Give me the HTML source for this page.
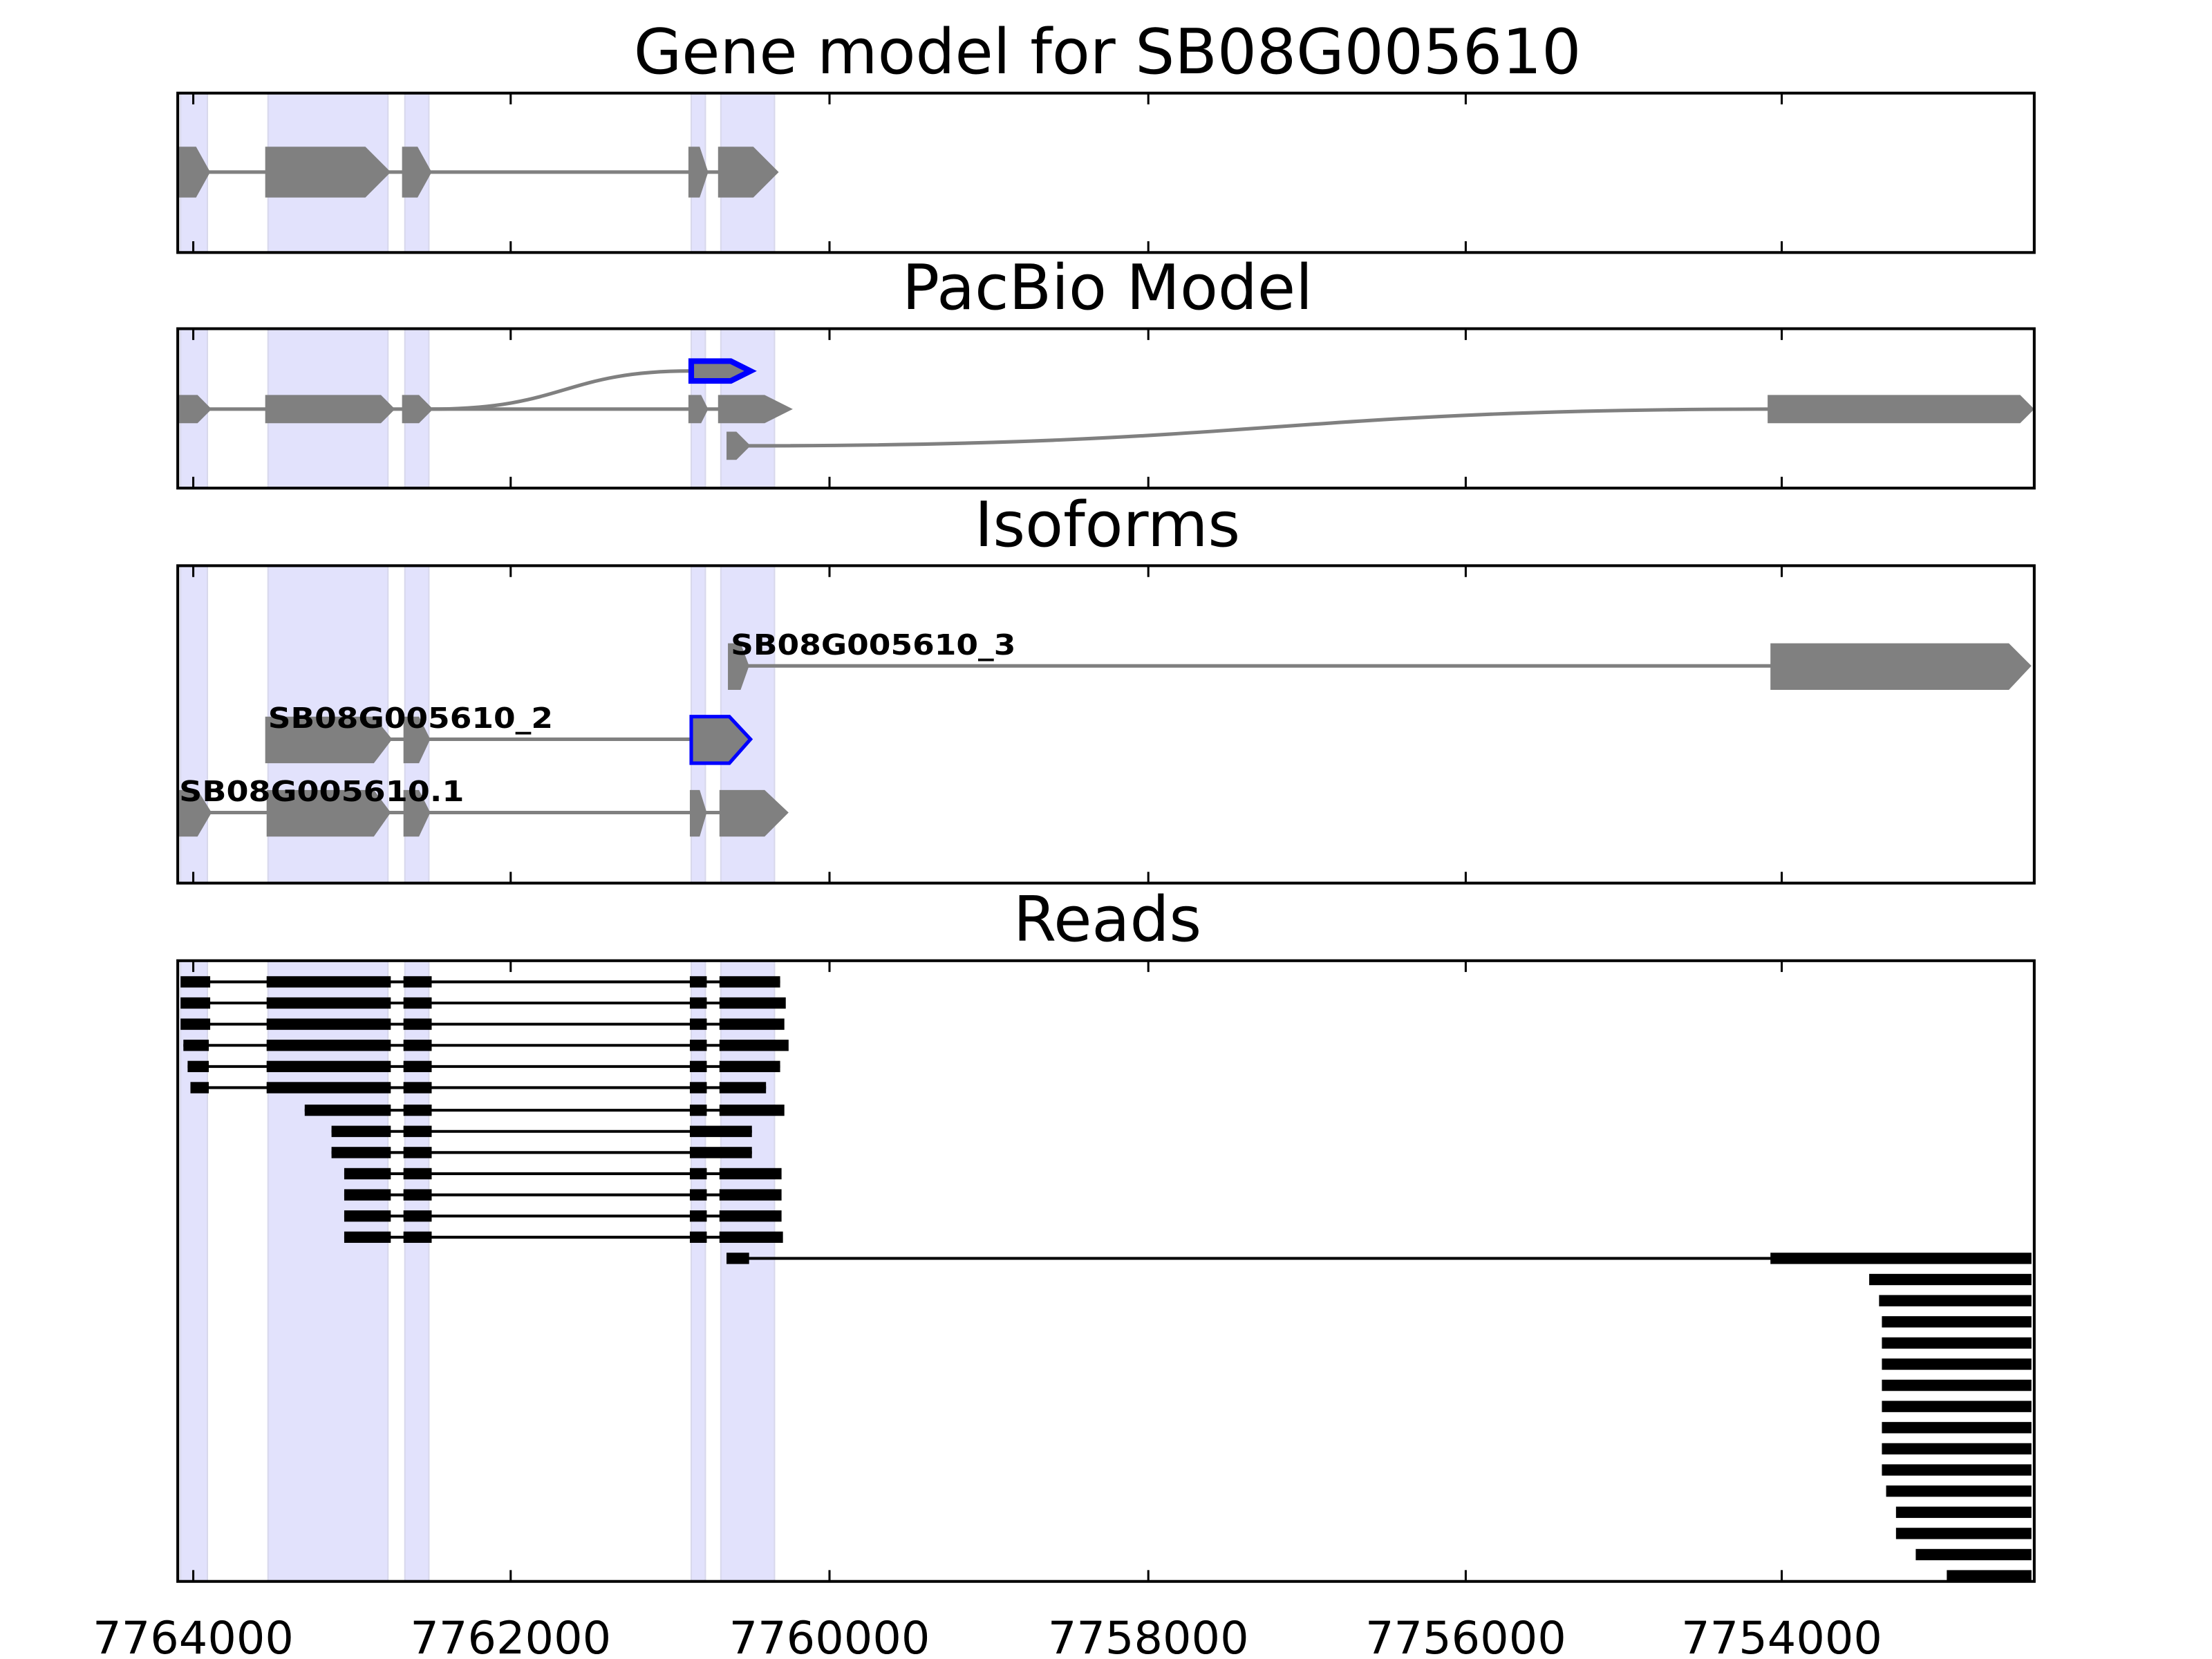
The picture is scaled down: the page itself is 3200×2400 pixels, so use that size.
<!DOCTYPE html>
<html><head><meta charset="utf-8"><style>html,body{margin:0;padding:0;background:#fff;width:3200px;height:2400px;overflow:hidden}svg{display:block}</style></head>
<body>
<svg width="3200" height="2400" viewBox="0 0 1568 1176" xmlns="http://www.w3.org/2000/svg" font-family="DejaVu Sans, Liberation Sans, sans-serif">
<defs>
<g id="shade">
<rect x="128" width="19" height="1000" fill="#e2e2fc" stroke="#d8d8ec" stroke-width="1"/>
<rect x="190" width="85" height="1000" fill="#e2e2fc" stroke="#d8d8ec" stroke-width="1"/>
<rect x="287" width="17" height="1000" fill="#e2e2fc" stroke="#d8d8ec" stroke-width="1"/>
<rect x="490" width="10" height="1000" fill="#e2e2fc" stroke="#d8d8ec" stroke-width="1"/>
<rect x="511" width="38" height="1000" fill="#e2e2fc" stroke="#d8d8ec" stroke-width="1"/>
</g>
<clipPath id="c1"><rect x="126" y="66" width="1316" height="113"/></clipPath>
<clipPath id="c2"><rect x="126" y="233" width="1316" height="113"/></clipPath>
<clipPath id="c3"><rect x="126" y="401" width="1316" height="225"/></clipPath>
<clipPath id="c4"><rect x="126" y="681" width="1316" height="440"/></clipPath>
</defs>

<g font-size="44" text-anchor="middle" fill="#000">
<text x="785" y="52">Gene model for SB08G005610</text>
<text x="785" y="219">PacBio Model</text>
<text x="785" y="387">Isoforms</text>
<text x="785" y="667">Reads</text>
</g>

<g clip-path="url(#c1)"><use href="#shade" y="66"/></g>
<g clip-path="url(#c2)"><use href="#shade" y="233"/></g>
<g clip-path="url(#c3)"><use href="#shade" y="401"/></g>
<g clip-path="url(#c4)"><use href="#shade" y="681"/></g>

<g fill="#808080">
<line x1="140" y1="122" x2="540" y2="122" stroke="#808080" stroke-width="2.5"/>
<polygon points="127,104 139,104 149,122 139,140 127,140"/>
<polygon points="188,104 259,104 277,122 259,140 188,140"/>
<polygon points="285,104 296,104 306,122 296,140 285,140"/>
<polygon points="488,104 496,104 502,122 496,140 488,140"/>
<polygon points="509,104 534,104 552,122 534,140 509,140"/>
</g>

<g fill="#808080" stroke="none">
<line x1="140" y1="290" x2="540" y2="290" stroke="#808080" stroke-width="2.5"/>
<path d="M306,290 C400,290 400,263 489,263" fill="none" stroke="#808080" stroke-width="2.5"/>
<path d="M530,316 C900,316 900,290 1260,290" fill="none" stroke="#808080" stroke-width="2.5"/>
<polygon points="127,280 140,280 150,290 140,300 127,300"/>
<polygon points="188,280 270,280 280,290 270,300 188,300"/>
<polygon points="285,280 297,280 307,290 297,300 285,300"/>
<polygon points="488,280 497,280 502,290 497,300 488,300"/>
<polygon points="509,280 542,280 562,290 542,300 509,300"/>
<polygon points="515,306 522,306 532,316 522,326 515,326"/>
<polygon points="1253,280 1432,280 1442,290 1432,300 1253,300"/>
<polygon points="490,256 518,256 532,263 518,270 490,270" stroke="#0000ff" stroke-width="4"/>
</g>

<g fill="#808080">
<line x1="525" y1="472" x2="1260" y2="472" stroke="#808080" stroke-width="2.5"/>
<polygon points="516,456 525,456 531,472 525,489 516,489"/>
<polygon points="1255,456 1424,456 1440,472 1424,489 1255,489"/>
<line x1="270" y1="524" x2="495" y2="524" stroke="#808080" stroke-width="2.5"/>
<polygon points="188,508 265,508 278,524 265,541 188,541"/>
<polygon points="286,508 297,508 305,524 297,541 286,541"/>
<polygon points="490,508 517,508 532,524 517,541 490,541" stroke="#0000ff" stroke-width="2.5"/>
<line x1="140" y1="576" x2="540" y2="576" stroke="#808080" stroke-width="2.5"/>
<polygon points="127,560 140,560 150,576 140,593 127,593"/>
<polygon points="189,560 265,560 277,576 265,593 189,593"/>
<polygon points="286,560 297,560 305,576 297,593 286,593"/>
<polygon points="489,560 496,560 501,576 496,593 489,593"/>
<polygon points="510,560 542,560 559,576 542,593 510,593"/>
</g>
<g font-size="20" font-weight="bold" fill="#000">
<text x="518" y="464" textLength="202" lengthAdjust="spacingAndGlyphs">SB08G005610_3</text>
<text x="190" y="516" textLength="202" lengthAdjust="spacingAndGlyphs">SB08G005610_2</text>
<text x="127" y="568" textLength="202" lengthAdjust="spacingAndGlyphs">SB08G005610.1</text>
</g>

<g fill="#000" stroke="#000">
<g stroke-width="2">
<line x1="130" y1="696" x2="553" y2="696"/>
<line x1="130" y1="711" x2="553" y2="711"/>
<line x1="130" y1="726" x2="553" y2="726"/>
<line x1="130" y1="741" x2="553" y2="741"/>
<line x1="133" y1="756" x2="553" y2="756"/>
<line x1="135" y1="771" x2="543" y2="771"/>
<line x1="216" y1="787" x2="553" y2="787"/>
<line x1="235" y1="802" x2="533" y2="802"/>
<line x1="235" y1="817" x2="533" y2="817"/>
<line x1="244" y1="832" x2="553" y2="832"/>
<line x1="244" y1="847" x2="553" y2="847"/>
<line x1="244" y1="862" x2="553" y2="862"/>
<line x1="244" y1="877" x2="553" y2="877"/>
<line x1="515" y1="892" x2="1260" y2="892"/>
</g>
<g stroke="none">
<rect x="128" y="692" width="21" height="8"/><rect x="189" y="692" width="88" height="8"/><rect x="286" y="692" width="20" height="8"/><rect x="489" y="692" width="12" height="8"/><rect x="510" y="692" width="43" height="8"/>
<rect x="128" y="707" width="21" height="8"/><rect x="189" y="707" width="88" height="8"/><rect x="286" y="707" width="20" height="8"/><rect x="489" y="707" width="12" height="8"/><rect x="510" y="707" width="47" height="8"/>
<rect x="128" y="722" width="21" height="8"/><rect x="189" y="722" width="88" height="8"/><rect x="286" y="722" width="20" height="8"/><rect x="489" y="722" width="12" height="8"/><rect x="510" y="722" width="46" height="8"/>
<rect x="130" y="737" width="18" height="8"/><rect x="189" y="737" width="88" height="8"/><rect x="286" y="737" width="20" height="8"/><rect x="489" y="737" width="12" height="8"/><rect x="510" y="737" width="49" height="8"/>
<rect x="133" y="752" width="15" height="8"/><rect x="189" y="752" width="88" height="8"/><rect x="286" y="752" width="20" height="8"/><rect x="489" y="752" width="12" height="8"/><rect x="510" y="752" width="43" height="8"/>
<rect x="135" y="767" width="13" height="8"/><rect x="189" y="767" width="88" height="8"/><rect x="286" y="767" width="20" height="8"/><rect x="489" y="767" width="12" height="8"/><rect x="510" y="767" width="33" height="8"/>
<rect x="216" y="783" width="61" height="8"/><rect x="286" y="783" width="20" height="8"/><rect x="489" y="783" width="12" height="8"/><rect x="510" y="783" width="46" height="8"/>
<rect x="235" y="798" width="42" height="8"/><rect x="286" y="798" width="20" height="8"/><rect x="489" y="798" width="44" height="8"/>
<rect x="235" y="813" width="42" height="8"/><rect x="286" y="813" width="20" height="8"/><rect x="489" y="813" width="44" height="8"/>
<rect x="244" y="828" width="33" height="8"/><rect x="286" y="828" width="20" height="8"/><rect x="489" y="828" width="12" height="8"/><rect x="510" y="828" width="44" height="8"/>
<rect x="244" y="843" width="33" height="8"/><rect x="286" y="843" width="20" height="8"/><rect x="489" y="843" width="12" height="8"/><rect x="510" y="843" width="44" height="8"/>
<rect x="244" y="858" width="33" height="8"/><rect x="286" y="858" width="20" height="8"/><rect x="489" y="858" width="12" height="8"/><rect x="510" y="858" width="44" height="8"/>
<rect x="244" y="873" width="33" height="8"/><rect x="286" y="873" width="20" height="8"/><rect x="489" y="873" width="12" height="8"/><rect x="510" y="873" width="45" height="8"/>
<rect x="515" y="888" width="16" height="8"/><rect x="1255" y="888" width="185" height="8"/>
<rect x="1325" y="903" width="115" height="8"/>
<rect x="1332" y="918" width="108" height="8"/>
<rect x="1334" y="933" width="106" height="8"/>
<rect x="1334" y="948" width="106" height="8"/>
<rect x="1334" y="963" width="106" height="8"/>
<rect x="1334" y="978" width="106" height="8"/>
<rect x="1334" y="993" width="106" height="8"/>
<rect x="1334" y="1008" width="106" height="8"/>
<rect x="1334" y="1023" width="106" height="8"/>
<rect x="1334" y="1038" width="106" height="8"/>
<rect x="1337" y="1053" width="103" height="8"/>
<rect x="1344" y="1068" width="96" height="8"/>
<rect x="1344" y="1083" width="96" height="8"/>
<rect x="1358" y="1098" width="82" height="8"/>
<rect x="1380" y="1113" width="60" height="8"/>
</g>
</g>

<g fill="none" stroke="#000" stroke-width="2">
<rect x="126" y="66" width="1316" height="113"/>
<rect x="126" y="233" width="1316" height="113"/>
<rect x="126" y="401" width="1316" height="225"/>
<rect x="126" y="681" width="1316" height="440"/>
</g>
<g stroke="#000" stroke-width="1.5">
<path d="M137,66v8M362,66v8M588,66v8M814,66v8M1039,66v8M1263,66v8M137,179v-8M362,179v-8M588,179v-8M814,179v-8M1039,179v-8M1263,179v-8"/>
<path d="M137,233v8M362,233v8M588,233v8M814,233v8M1039,233v8M1263,233v8M137,346v-8M362,346v-8M588,346v-8M814,346v-8M1039,346v-8M1263,346v-8"/>
<path d="M137,401v8M362,401v8M588,401v8M814,401v8M1039,401v8M1263,401v8M137,626v-8M362,626v-8M588,626v-8M814,626v-8M1039,626v-8M1263,626v-8"/>
<path d="M137,681v8M362,681v8M588,681v8M814,681v8M1039,681v8M1263,681v8M137,1121v-8M362,1121v-8M588,1121v-8M814,1121v-8M1039,1121v-8M1263,1121v-8"/>
</g>
<g font-size="32" text-anchor="middle" fill="#000">
<text x="137" y="1172">7764000</text>
<text x="362" y="1172">7762000</text>
<text x="588" y="1172">7760000</text>
<text x="814" y="1172">7758000</text>
<text x="1039" y="1172">7756000</text>
<text x="1263" y="1172">7754000</text>
</g>
</svg>
</body></html>
